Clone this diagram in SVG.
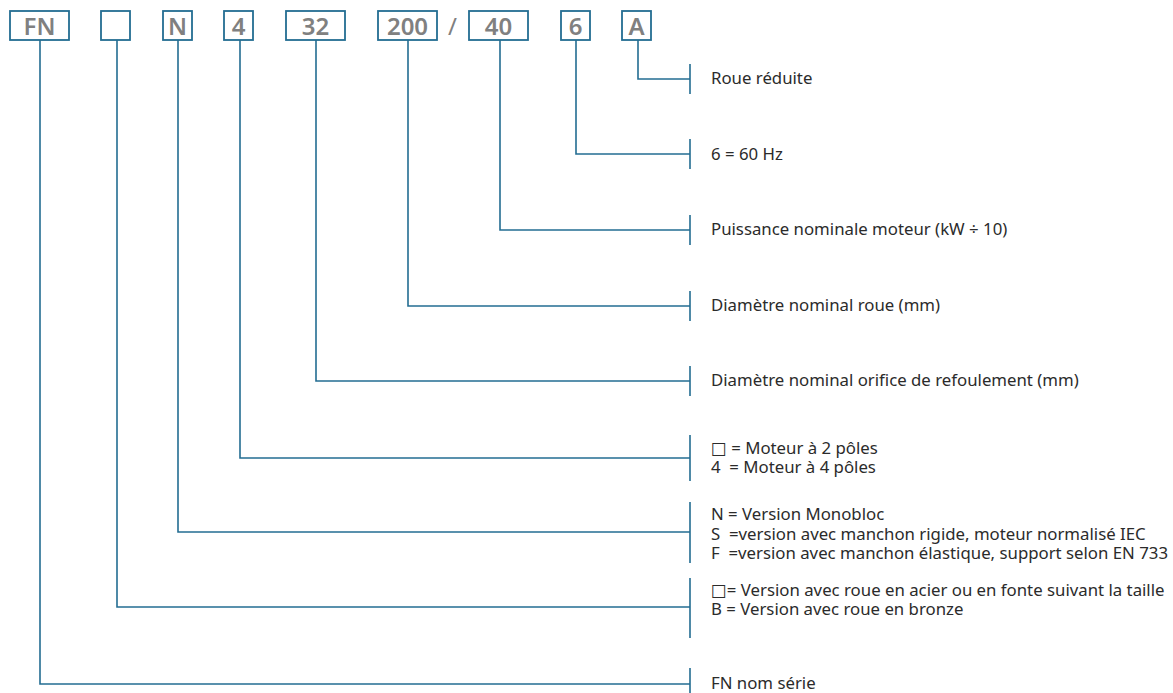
<svg xmlns="http://www.w3.org/2000/svg" width="1173" height="693" viewBox="0 0 1173 693">
<style>
.box{fill:#fff;stroke:#236d92;stroke-width:1.8}
.bt{font-family:"Noto Sans","DejaVu Sans",sans-serif;font-size:24px;font-weight:600;fill:#808080;text-anchor:middle}
.ln{fill:none;stroke:#236d92;stroke-width:1.6}
.lb{font-family:"Noto Sans","DejaVu Sans",sans-serif;font-size:16.8px;fill:#2b2b2b;white-space:pre}
</style>
<rect width="1173" height="693" fill="#fff"/>
<g id="connectors">
<path class="ln" d="M40 40V684H690M117 40V607H690M178 40V532H690M240 40V458H690M316 40V381H690M408 40V306H690M500 40V230H690M576 40V154H690M638 40V79H690"/>
<path class="ln" d="M690 64V94M690 139V169M690 215V245M690 291V321M690 366V396M690 435V481M690 502V563M690 578V638M690 668V693"/>
</g>
<g id="n-FN"><rect class="box" x="10" y="11" width="59" height="29"/><text class="bt" x="39.5" y="35">FN</text></g>
<g id="n-blank"><rect class="box" x="101" y="11" width="29" height="29"/></g>
<g id="n-N"><rect class="box" x="163" y="11" width="29" height="29"/><text class="bt" x="177.5" y="35">N</text></g>
<g id="n-4"><rect class="box" x="224" y="11" width="29" height="29"/><text class="bt" x="238.5" y="35">4</text></g>
<g id="n-32"><rect class="box" x="286" y="11" width="59" height="29"/><text class="bt" x="315.5" y="35">32</text></g>
<g id="n-200"><rect class="box" x="378" y="11" width="59" height="29"/><text class="bt" x="407.5" y="35">200</text></g>
<g id="n-slash"><text class="bt" x="452.5" y="35" style="font-weight:400">/</text></g>
<g id="n-40"><rect class="box" x="469" y="11" width="59" height="29"/><text class="bt" x="498.5" y="35">40</text></g>
<g id="n-6"><rect class="box" x="561" y="11" width="29" height="29"/><text class="bt" x="575.5" y="35">6</text></g>
<g id="n-A"><rect class="box" x="622" y="11" width="29" height="29"/><text class="bt" x="636.5" y="35">A</text></g>
<g id="labels">
<text class="lb" x="711" y="84">Roue réduite</text>
<text class="lb" x="711" y="160">6 = 60 Hz</text>
<text class="lb" x="711" y="235">Puissance nominale moteur (kW ÷ 10)</text>
<text class="lb" x="711" y="311">Diamètre nominal roue (mm)</text>
<text class="lb" x="711" y="386">Diamètre nominal orifice de refoulement (mm)</text>
<text class="lb" x="711" y="454"><tspan x="711">□ = Moteur à 2 pôles</tspan><tspan x="711" dy="19">4  = Moteur à 4 pôles</tspan></text>
<text class="lb" x="711" y="520"><tspan x="711">N = Version Monobloc</tspan><tspan x="711" dy="19.5">S  =version avec manchon rigide, moteur normalisé IEC</tspan><tspan x="711" dy="19.5">F  =version avec manchon élastique, support selon EN 733</tspan></text>
<text class="lb" x="711" y="596"><tspan x="711">□= Version avec roue en acier ou en fonte suivant la taille</tspan><tspan x="711" dy="19">B = Version avec roue en bronze</tspan></text>
<text class="lb" x="711" y="689">FN nom série</text>
</g>
</svg>
